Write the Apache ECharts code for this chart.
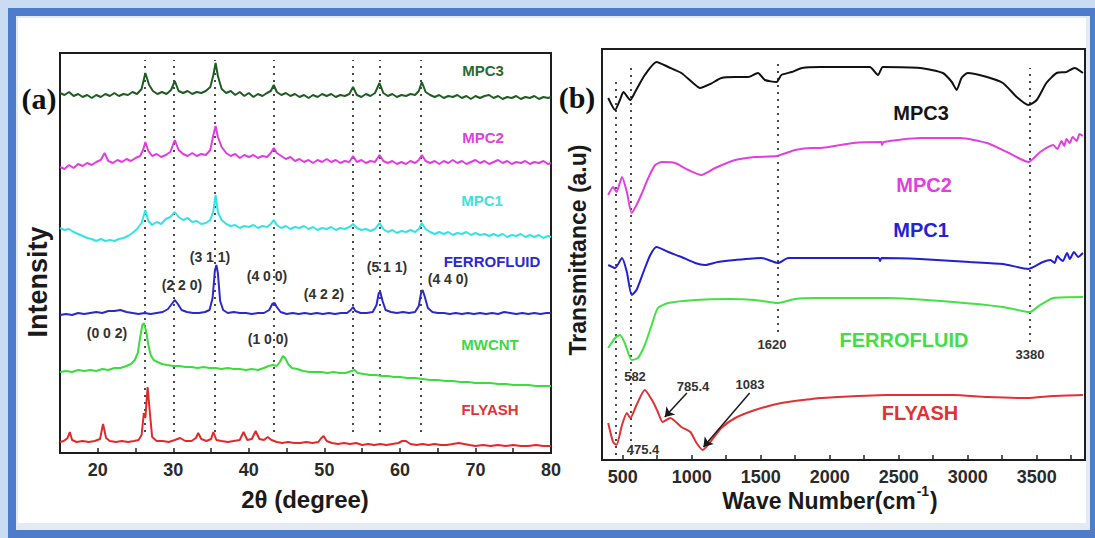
<!DOCTYPE html>
<html><head><meta charset="utf-8">
<script src="https://cdn.jsdelivr.net/npm/echarts@6/dist/echarts.min.js"></script>
<style>html,body{margin:0;padding:0;background:#fff}#c{width:1095px;height:538px}</style>
</head><body><div id="c"></div>
<script>
// ---------- (a) XRD data : [2theta, stacked intensity (a.u.)] ----------
const xrdMPC3 = [[15,360],[15.6,358],[16.2,361],[16.8,357],[17.4,359],[18,356],[18.6,358],[19.2,355],[19.8,358],[20.4,356],[21,359],[21.6,357],[22.2,360],[22.8,357],[23.4,359],[24,358],[24.6,361],[25.2,359],[25.8,364],[26.3,380],[26.8,368],[27.3,362],[27.9,359],[28.5,361],[29.1,359],[29.7,363],[30.2,372],[30.7,362],[31.3,360],[31.9,362],[32.5,359],[33.1,361],[33.7,360],[34.3,362],[34.9,366],[35.3,378],[35.6,390],[35.9,377],[36.4,364],[37,360],[37.6,362],[38.2,358],[38.8,361],[39.4,357],[40,360],[40.6,356],[41.2,359],[41.8,357],[42.4,360],[42.9,362],[43.3,368],[43.7,361],[44.3,358],[44.9,360],[45.5,357],[46.1,359],[46.7,356],[47.3,358],[47.9,355],[48.5,358],[49.1,356],[49.7,359],[50.3,357],[50.9,359],[51.5,356],[52.1,358],[52.7,357],[53.3,359],[53.8,366],[54.3,358],[54.9,356],[55.5,359],[56.1,357],[56.7,360],[57.3,370],[57.8,360],[58.4,357],[59,359],[59.6,356],[60.2,358],[60.8,357],[61.4,359],[62,358],[62.5,362],[62.9,371],[63.4,361],[64,358],[64.6,356],[65.2,358],[65.8,355],[66.4,357],[67,356],[67.6,358],[68.2,355],[68.8,357],[69.4,354],[70,357],[70.6,355],[71.2,357],[71.8,358],[72.4,355],[73,357],[73.6,354],[74.2,356],[74.8,355],[75.4,357],[76,354],[76.6,356],[77.2,355],[77.8,357],[78.4,354],[79,356],[79.6,355],[80,356]];
const xrdMPC2 = [[15,286],[15.6,284],[16.2,288],[16.8,285],[17.4,289],[18,287],[18.6,290],[19.2,288],[19.8,291],[20.4,293],[20.9,300],[21.4,292],[22,290],[22.6,293],[23.2,291],[23.8,294],[24.4,292],[25,295],[25.6,297],[26,303],[26.3,311],[26.7,302],[27.2,297],[27.8,299],[28.4,296],[29,298],[29.6,301],[30.2,313],[30.7,303],[31.3,299],[31.9,297],[32.5,300],[33.1,297],[33.7,299],[34.3,298],[34.9,303],[35.3,318],[35.6,327],[35.9,316],[36.4,306],[37,300],[37.6,297],[38.2,299],[38.8,295],[39.4,298],[40,296],[40.6,298],[41.2,295],[41.8,297],[42.4,296],[42.9,300],[43.3,305],[43.7,300],[44.3,297],[44.9,294],[45.5,296],[46.1,292],[46.7,294],[47.3,291],[47.9,293],[48.5,290],[49.1,293],[49.7,291],[50.3,294],[50.9,291],[51.5,293],[52.1,290],[52.7,292],[53.3,291],[53.8,297],[54.3,291],[54.9,293],[55.5,290],[56.1,292],[56.7,291],[57.3,298],[57.8,292],[58.4,290],[59,292],[59.6,289],[60.2,291],[60.8,289],[61.4,292],[62,290],[62.5,293],[62.9,298],[63.4,292],[64,290],[64.6,292],[65.2,289],[65.8,292],[66.4,290],[67,293],[67.6,290],[68.2,292],[68.8,289],[69.4,291],[70,293],[70.6,290],[71.2,292],[71.8,289],[72.4,291],[73,293],[73.6,290],[74.2,292],[74.8,289],[75.4,291],[76,290],[76.6,292],[77.2,289],[77.8,291],[78.4,290],[79,292],[79.6,289],[80,290]];
const xrdMPC1 = [[15,225],[15.6,223],[16.2,224],[16.8,221],[17.4,219],[18,217],[18.6,215],[19.2,214],[19.8,212],[20.4,214],[21,212],[21.6,213],[22.2,212],[22.8,214],[23.4,215],[24,217],[24.6,220],[25.2,224],[25.8,230],[26.3,243],[26.7,232],[27.2,228],[27.8,231],[28.4,229],[29,234],[29.6,236],[30.2,241],[30.7,236],[31.3,233],[31.9,235],[32.5,231],[33.1,232],[33.7,229],[34.3,230],[34.9,233],[35.3,242],[35.6,258],[35.9,241],[36.4,233],[37,229],[37.6,227],[38.2,228],[38.8,225],[39.4,227],[40,226],[40.6,228],[41.2,225],[41.8,227],[42.4,226],[42.9,229],[43.3,233],[43.7,228],[44.3,225],[44.9,227],[45.5,224],[46.1,226],[46.7,225],[47.3,227],[47.9,224],[48.5,226],[49.1,223],[49.7,225],[50.3,224],[50.9,226],[51.5,223],[52.1,225],[52.7,224],[53.3,226],[53.8,229],[54.3,225],[54.9,223],[55.5,224],[56.1,222],[56.7,224],[57.3,230],[57.8,224],[58.4,221],[59,223],[59.6,220],[60.2,222],[60.8,221],[61.4,223],[62,221],[62.5,224],[62.9,230],[63.4,224],[64,221],[64.6,219],[65.2,221],[65.8,219],[66.4,221],[67,218],[67.6,220],[68.2,219],[68.8,221],[69.4,218],[70,220],[70.6,218],[71.2,219],[71.8,217],[72.4,219],[73,217],[73.6,219],[74.2,216],[74.8,218],[75.4,217],[76,219],[76.6,216],[77.2,218],[77.8,216],[78.4,218],[79,215],[79.6,217],[80,216]];
const xrdFerro = [[15,138],[15.8,139],[16.6,138],[17.4,140],[18.2,139],[19,140],[19.8,141],[20.6,140],[21.4,142],[22.2,142],[23,143],[23.8,141],[24.6,140],[25.4,139],[26.2,140],[27,139],[27.8,140],[28.6,141],[29.3,144],[29.8,149],[30.2,153],[30.6,149],[31.1,143],[31.8,141],[32.6,140],[33.4,140],[34.2,141],[34.8,143],[35.2,155],[35.5,182],[35.7,188],[35.9,180],[36.2,152],[36.6,143],[37.2,140],[38,141],[38.8,140],[39.6,140],[40.4,139],[41.2,140],[42,140],[42.7,143],[43.1,149],[43.4,150],[43.7,146],[44.2,141],[45,139],[45.8,140],[46.6,139],[47.4,140],[48.2,139],[49,140],[49.8,139],[50.6,140],[51.4,139],[52.2,140],[53,140],[53.5,143],[53.8,146],[54.1,142],[54.8,140],[55.6,140],[56.4,141],[56.9,148],[57.2,160],[57.4,161],[57.7,152],[58.1,143],[58.8,141],[59.6,140],[60.4,141],[61.2,140],[62,141],[62.5,147],[62.8,160],[63,163],[63.3,156],[63.7,145],[64.3,141],[65,140],[65.8,140],[66.6,139],[67.4,140],[68.2,139],[69,140],[69.8,139],[70.6,140],[71.4,139],[72.2,140],[73,139],[73.8,141],[74.6,140],[75.4,139],[76.2,140],[77,139],[77.8,140],[78.6,139],[79.4,140],[80,140]];
const xrdMWCNT = [[15,81],[15.8,82],[16.6,81],[17.4,83],[18.2,82],[19,83],[19.8,82],[20.6,84],[21.4,83],[22.2,85],[23,85],[23.8,87],[24.4,89],[24.9,93],[25.3,100],[25.6,115],[25.9,128],[26.1,130],[26.4,122],[26.7,108],[27,98],[27.4,93],[27.9,91],[28.5,89],[29.2,88],[30,87],[30.8,87],[31.6,86],[32.4,86],[33.2,85],[34,86],[34.8,85],[35.6,85],[36.4,84],[37.2,85],[38,84],[38.8,84],[39.6,83],[40.4,84],[41.2,83],[42,85],[42.6,87],[43.2,88],[43.7,87],[44.1,91],[44.5,97],[44.8,95],[45.2,89],[45.7,85],[46.4,84],[47.2,82],[48,81],[48.8,81],[49.6,81],[50.4,80],[51.2,81],[52,80],[52.8,80],[53.6,82],[54,83],[54.4,80],[55.2,79],[56,78],[56.8,78],[57.6,77],[58.4,77],[59.2,76],[60,76],[61,75],[62,75],[63,74],[64,73],[65,73],[66,72],[67,72],[68,71],[69,71],[70,70],[71,70],[72,70],[73,69],[74,69],[75,68],[76,68],[77,68],[78,67],[79,67],[80,67]];
const xrdFlyash = [[15,11],[15.5,12],[16,15],[16.3,21],[16.6,13],[17.2,11],[18,12],[18.8,11],[19.6,12],[20.3,14],[20.7,29],[21.1,15],[21.6,12],[22.4,11],[23.2,12],[24,11],[24.8,12],[25.4,13],[25.8,18],[26.1,40],[26.3,35],[26.6,66],[26.9,40],[27.2,16],[27.8,12],[28.6,12],[29.4,11],[30.2,13],[30.9,15],[31.6,12],[32.4,12],[33,15],[33.3,20],[33.7,14],[34.4,12],[35,14],[35.3,21],[35.7,13],[36.4,12],[37.2,11],[38,12],[38.8,13],[39.3,21],[39.8,13],[40.4,14],[40.9,22],[41.4,14],[42,13],[42.5,16],[43,13],[43.7,11],[44.4,10],[45.2,11],[46,10],[46.8,10],[47.6,11],[48.4,10],[49.2,11],[49.6,15],[49.9,17],[50.3,12],[51,10],[51.8,9],[52.6,10],[53.4,9],[54.2,10],[55,8],[55.8,9],[56.6,8],[57.4,9],[58.2,8],[59,9],[59.8,10],[60.3,12],[60.8,12],[61.4,9],[62.2,8],[63,9],[63.8,8],[64.6,9],[65.4,8],[66.2,8],[67,9],[67.8,10],[68.5,9],[69.2,8],[70,7],[71,8],[72,7],[73,8],[74,7],[75,8],[76,7],[77,7],[78,8],[79,7],[80,7]];
const xrdPeakLines = [26.2, 30.1, 35.5, 43.3, 53.8, 57.3, 62.8];
const xrdTickLabels = [20, 30, 40, 50, 60, 70, 80];
const xrdTicks = [20, 25, 30, 35, 40, 45, 50, 55, 60, 65, 70, 75];

// ---------- (b) FTIR data : [wavenumber, stacked transmittance (a.u.)] ----------
const ftirMPC3 = [[395,362],[445,350],[480,360],[505,368],[555,360],[590,368],[660,385],[745,398],[830,393],[925,387],[1010,377],[1060,372],[1135,376],[1215,382],[1315,383],[1410,383],[1480,387],[1530,380],[1615,378],[1650,385],[1725,388],[1800,392],[1930,393],[2290,393],[2350,385],[2385,393],[2655,392],[2820,387],[2885,378],[2920,370],[2955,382],[3000,387],[3140,383],[3255,377],[3355,363],[3440,355],[3500,360],[3570,377],[3645,387],[3715,388],[3775,392],[3835,387]];
const ftirMPC2 = [[395,265],[430,273],[455,268],[495,283],[530,268],[565,247],[600,255],[640,267],[685,282],[735,295],[785,298],[880,297],[975,290],[1070,285],[1170,292],[1315,300],[1460,303],[1615,304],[1750,310],[1870,312],[1930,312],[2170,317],[2375,318],[2380,315],[2390,318],[2655,322],[2945,322],[3140,317],[3285,308],[3440,298],[3525,308],[3620,315],[3650,311],[3680,319],[3700,314],[3715,321],[3740,317],[3760,323],[3790,319],[3810,326],[3835,324]];
const ftirMPC1 = [[395,195],[445,192],[495,202],[530,188],[565,165],[600,170],[650,188],[700,205],[745,213],[830,208],[925,203],[1025,197],[1095,195],[1190,198],[1315,200],[1505,202],[1625,197],[1700,202],[1870,202],[1930,202],[2355,202],[2365,199],[2375,202],[2655,201],[3015,198],[3255,196],[3440,191],[3545,198],[3600,200],[3630,197],[3650,204],[3670,201],[3690,199],[3720,207],[3740,201],[3770,208],[3800,203],[3835,207]];
const ftirFerro = [[395,112],[445,122],[480,125],[515,117],[565,100],[610,102],[660,115],[710,135],[755,152],[830,157],[1025,160],[1265,161],[1460,160],[1620,157],[1750,161],[1895,162],[2415,162],[2895,158],[3255,153],[3450,148],[3525,155],[3620,162],[3835,163]];
const ftirFlyash = [[395,37],[430,18],[455,15],[495,35],[530,47],[555,42],[600,55],[660,70],[720,58],[755,48],[790,38],[845,42],[925,33],[990,28],[1035,17],[1080,10],[1135,18],[1215,32],[1315,42],[1460,50],[1650,57],[1870,61],[1930,62],[2415,65],[2895,65],[3140,63],[3430,62],[3620,64],[3835,65]];
const ftirBandLines = [449, 560, 1623, 3451];
const ftirTickLabels = [500, 1000, 1500, 2000, 2500, 3000, 3500];
const ftirTicks = [500, 750, 1000, 1250, 1500, 1750, 2000, 2250, 2500, 2750, 3000, 3250, 3500, 3750];

// ---------- build ----------
const FONT = 'Liberation Sans, Arial, sans-serif';
const chart = echarts.init(document.getElementById('c'), null, {renderer: 'svg'});

const dotStyle = {type: [2, 5], color: '#4a4a4a', width: 2};
function vline(x, y0, y1) { return [{coord: [x, y0]}, {coord: [x, y1]}]; }

const xrdDots = xrdPeakLines.map(x => vline(x, 21, 393));
const ftirDotSpan = [[5, 382], [5, 395], [128, 397], [118, 392]];
const ftirDots = ftirBandLines.map((x, i) => vline(x, ftirDotSpan[i][0], ftirDotSpan[i][1]));

function txt(x, y, s, color, size, extra) {
  return Object.assign({
    type: 'text', x: x, y: y, z: 100,
    style: {text: s, fill: color, font: 'bold ' + size + 'px ' + FONT,
      align: 'center', verticalAlign: 'middle', textAlign: 'center', textVerticalAlign: 'middle'}
  }, extra || {});
}

const axisCommon = (ticks, labels) => ({
  axisLine: {show: false},
  axisTick: {show: true, inside: true, length: 5, customValues: ticks, lineStyle: {color: '#222', width: 1.5}},
  axisLabel: {customValues: labels, fontSize: 18, fontWeight: 'bold', color: '#2a2a2a', fontFamily: FONT, margin: 8,
    formatter: v => String(v)},
  splitLine: {show: false}
});

const lineS = (name, data, color, xi, w, extra) => Object.assign({
  name: name, type: 'line', data: data, xAxisIndex: xi, yAxisIndex: xi,
  showSymbol: false, symbol: 'none', lineStyle: {color: color, width: w}, silent: true, z: 3
}, extra || {});

const option = {
  animation: false,
  backgroundColor: 'transparent',
  grid: [
    {left: 60, top: 53, width: 491, height: 400, show: true, borderColor: '#1e1e1e', borderWidth: 2, z: 2},
    {left: 602, top: 49, width: 483, height: 411, show: true, borderColor: '#1e1e1e', borderWidth: 2, z: 2}
  ],
  xAxis: [
    Object.assign({type: 'value', gridIndex: 0, min: 15, max: 80, z: 3}, axisCommon(xrdTicks, xrdTickLabels)),
    Object.assign({type: 'value', gridIndex: 1, min: 350, max: 3850, z: 3}, axisCommon(ftirTicks, ftirTickLabels))
  ],
  yAxis: [
    {type: 'value', gridIndex: 0, min: 0, max: 400, show: false},
    {type: 'value', gridIndex: 1, min: 0, max: 411, show: false}
  ],
  series: [
    lineS('MPC3', xrdMPC3, '#1f5c22', 0, 2, {markLine: {silent: true, symbol: 'none', label: {show: false}, lineStyle: dotStyle, data: xrdDots, z: 1}}),
    lineS('MPC2', xrdMPC2, '#e03ce0', 0, 2),
    lineS('MPC1', xrdMPC1, '#36e2e2', 0, 2),
    lineS('FERROFLUID', xrdFerro, '#2a2ac8', 0, 2),
    lineS('MWCNT', xrdMWCNT, '#3cdc3c', 0, 2),
    lineS('FLYASH', xrdFlyash, '#e02a2a', 0, 2),
    lineS('MPC3', ftirMPC3, '#111111', 1, 2, {smooth: 0.2, markLine: {silent: true, symbol: 'none', label: {show: false}, lineStyle: dotStyle, data: ftirDots, z: 1}}),
    lineS('MPC2', ftirMPC2, '#e040e0', 1, 2, {smooth: 0.2}),
    lineS('MPC1', ftirMPC1, '#2020d0', 1, 2, {smooth: 0.2}),
    lineS('FERROFLUID', ftirFerro, '#44e044', 1, 2, {smooth: 0.2}),
    lineS('FLYASH', ftirFlyash, '#e03232', 1, 2, {smooth: 0.2, markLine: {silent: true, symbol: ['none', 'arrow'], symbolSize: 9, label: {show: false},
      lineStyle: {type: 'solid', color: '#1a1a1a', width: 1.5},
      data: [[{coord: [965, 67]}, {coord: [805, 43]}], [{coord: [1420, 67]}, {coord: [1085, 13]}]]}})
  ],
  graphic: [
    // window-like frame
    {type: 'rect', z: -10, silent: true, shape: {x: 0, y: 0, width: 1095, height: 538}, style: {fill: '#c9dcf2'}},
    {type: 'rect', z: -10, silent: true, shape: {x: 8, y: 8, width: 1087, height: 530}, style: {fill: '#4d7ccb'}},
    {type: 'rect', z: -10, silent: true, shape: {x: 16, y: 16, width: 1074, height: 514}, style: {fill: '#e4eaf3'}},
    {type: 'rect', z: -10, silent: true, shape: {x: 18, y: 18, width: 1068, height: 505}, style: {fill: '#ffffff'}},
    // panel letters
    {type: 'text', x: 39, y: 98, z: 100, style: {text: '(a)', fill: '#111', font: 'bold 30px Liberation Serif, Times New Roman, serif', align: 'center', verticalAlign: 'middle'}},
    {type: 'text', x: 577, y: 97, z: 100, style: {text: '(b)', fill: '#111', font: 'bold 30px Liberation Serif, Times New Roman, serif', align: 'center', verticalAlign: 'middle'}},
    // axis titles
    txt(38, 282, 'Intensity', '#1a1a1a', 27, {rotation: Math.PI / 2}),
    txt(578, 250, 'Transmittance (a.u)', '#1a1a1a', 23, {rotation: Math.PI / 2}),
    txt(305, 499, '2θ (degree)', '#1a1a1a', 24),
    {type: 'text', x: 830, y: 498, z: 100, style: {
      text: '{n|Wave Number(cm}{s|-1}{n|)}', align: 'center', verticalAlign: 'middle',
      rich: {n: {font: 'bold 23px ' + FONT, fill: '#1a1a1a', lineHeight: 28, verticalAlign: 'bottom'},
             s: {font: 'bold 14px ' + FONT, fill: '#1a1a1a', lineHeight: 28, verticalAlign: 'top', padding: [0, 1, 0, 1]}}}},
    // (a) series names
    txt(483, 70, 'MPC3', '#2b6a2e', 15),
    txt(483, 137, 'MPC2', '#e040e0', 15),
    txt(482, 200, 'MPC1', '#40e0e0', 15),
    txt(492, 261, 'FERROFLUID', '#2a2ad0', 15),
    txt(490, 344, 'MWCNT', '#3fd83f', 15),
    txt(490, 409, 'FLYASH', '#e03333', 15),
    // (a) Miller indices
    txt(210, 257, '(3 1 1)', '#333', 14),
    txt(182, 285, '(2 2 0)', '#333', 14),
    txt(267, 276, '(4 0 0)', '#333', 14),
    txt(324, 294, '(4 2 2)', '#333', 14),
    txt(387, 267, '(5 1 1)', '#333', 14),
    txt(448, 279, '(4 4 0)', '#333', 14),
    txt(107, 333, '(0 0 2)', '#333', 14),
    txt(268, 339, '(1 0 0)', '#333', 14),
    // (b) series names
    txt(921, 113, 'MPC3', '#151515', 20),
    txt(924, 185, 'MPC2', '#e040e0', 20),
    txt(921, 230, 'MPC1', '#2424d0', 20),
    txt(904, 340, 'FERROFLUID', '#44dd44', 20),
    txt(920, 413, 'FLYASH', '#e03333', 20),
    // (b) band labels
    txt(772, 344, '1620', '#333', 13),
    txt(1030, 354, '3380', '#333', 13),
    txt(635, 376, '582', '#333', 13),
    txt(693, 386, '785.4', '#333', 13),
    txt(750, 384, '1083', '#333', 13),
    txt(643, 449, '475.4', '#333', 13)
  ]
};
chart.setOption(option);
</script></body></html>
